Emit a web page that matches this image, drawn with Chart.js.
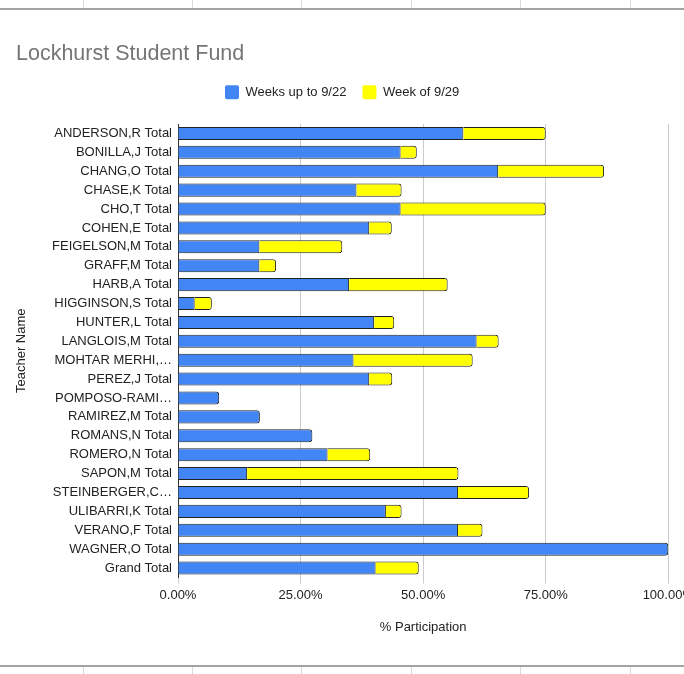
<!DOCTYPE html>
<html>
<head>
<meta charset="utf-8">
<script src="https://cdn.jsdelivr.net/npm/chart.js@4/dist/chart.umd.min.js"></script>
<style>
html,body{margin:0;padding:0;background:#fff;}
#wrap{position:relative;width:684px;height:674px;overflow:hidden;background:#fff;}
#c{position:absolute;left:0;top:0;}
.hl{position:absolute;left:0;width:684px;height:2px;background:#a3a3a3;}
.vl{position:absolute;width:1px;background:#dadada;}
</style>
</head>
<body>
<div id="wrap">
<canvas id="c" width="700" height="674"></canvas>
<div class="hl" style="top:8px"></div>
<div class="hl" style="top:665px"></div>
<div class="vl" style="left:83px;top:0;height:8px"></div>
<div class="vl" style="left:192px;top:0;height:8px"></div>
<div class="vl" style="left:301px;top:0;height:8px"></div>
<div class="vl" style="left:411px;top:0;height:8px"></div>
<div class="vl" style="left:520px;top:0;height:8px"></div>
<div class="vl" style="left:630px;top:0;height:8px"></div>
<div class="vl" style="left:83px;top:667px;height:7px"></div>
<div class="vl" style="left:192px;top:667px;height:7px"></div>
<div class="vl" style="left:301px;top:667px;height:7px"></div>
<div class="vl" style="left:411px;top:667px;height:7px"></div>
<div class="vl" style="left:520px;top:667px;height:7px"></div>
<div class="vl" style="left:630px;top:667px;height:7px"></div>
</div>
<script>
const categories = [
  "ANDERSON,R Total", "BONILLA,J Total", "CHANG,O Total", "CHASE,K Total",
  "CHO,T Total", "COHEN,E Total", "FEIGELSON,M Total", "GRAFF,M Total",
  "HARB,A Total", "HIGGINSON,S Total", "HUNTER,L Total", "LANGLOIS,M Total",
  "MOHTAR MERHI,\u2026", "PEREZ,J Total", "POMPOSO-RAMI\u2026", "RAMIREZ,M Total",
  "ROMANS,N Total", "ROMERO,N Total", "SAPON,M Total", "STEINBERGER,C\u2026",
  "ULIBARRI,K Total", "VERANO,F Total", "WAGNER,O Total", "Grand Total"
];
const weeksUpTo922 = [58.2, 45.4, 65.3, 36.4, 45.4, 39.0, 16.6, 16.6, 34.9, 3.4, 40.0, 60.9,
                      35.8, 39.0, 8.4, 16.7, 27.4, 30.5, 14.1, 57.1, 42.4, 57.1, 100, 40.3];
const weekOf929   = [16.8, 3.3, 21.6, 9.2, 29.6, 4.6, 16.9, 3.4, 20.1, 3.5, 4.1, 4.5,
                      24.3, 4.7, 0, 0, 0, 8.7, 43.1, 14.5, 3.2, 5.0, 0, 8.8];
const xTickValues = [0, 25, 50, 75, 100];
const seriesNames = ["Weeks up to 9/22", "Week of 9/29"];
const titleText = "Lockhurst Student Fund";
const xTitle = "% Participation";
const yTitle = "Teacher Name";

const FONT = "'Liberation Sans', Arial, Helvetica, sans-serif";
Chart.defaults.font.family = FONT;
Chart.defaults.color = '#222';

new Chart(document.getElementById('c'), {
  type: 'bar',
  data: {
    labels: categories,
    datasets: [
      {
        label: seriesNames[0], data: weeksUpTo922,
        backgroundColor: '#4285f4', borderColor: '#222', borderWidth: 1,
        borderRadius: 3, borderSkipped: 'start',
        barPercentage: 0.69, categoryPercentage: 1
      },
      {
        label: seriesNames[1], data: weekOf929,
        backgroundColor: '#ffff00', borderColor: '#222', borderWidth: 1,
        borderRadius: 3, borderSkipped: 'start',
        barPercentage: 0.69, categoryPercentage: 1
      }
    ]
  },
  options: {
    indexAxis: 'y',
    responsive: false,
    animation: false,
    devicePixelRatio: 1,
    layout: { padding: { left: 16, right: 31.7, top: 0, bottom: 0 } },
    plugins: {
      tooltip: { enabled: false },
      title: {
        display: true, text: titleText, align: 'start', color: '#757575',
        font: { size: 21.5, weight: 'normal', family: FONT },
        padding: { top: 41.1, bottom: 2.3 }
      },
      subtitle: {
        display: true, text: '', weight: 500, position: 'top',
        font: { size: 10, lineHeight: 1 }, padding: { top: 4.8, bottom: 0 }
      },
      legend: {
        position: 'top', align: 'center',
        labels: {
          boxWidth: 14, boxHeight: 14, padding: 16, color: '#222',
          font: { size: 13, family: FONT },
          useBorderRadius: true, borderRadius: 2,
          generateLabels: (chart) => Chart.defaults.plugins.legend.labels.generateLabels(chart)
            .map(l => Object.assign(l, { lineWidth: 0, strokeStyle: l.fillStyle }))
        }
      }
    },
    scales: {
      x: {
        stacked: true, min: 0, max: 100,
        afterBuildTicks: (s) => { s.ticks = xTickValues.map(v => ({ value: v })); },
        afterFit: (s) => { s.height = 96.5; },
        ticks: {
          padding: 4, color: '#222', font: { size: 13 },
          callback: (v) => Number(v).toFixed(2) + '%'
        },
        grid: { color: '#cccccc', lineWidth: 1, tickLength: 6, drawTicks: true },
        border: { display: false },
        title: {
          display: true, text: xTitle, color: '#222', font: { size: 13 },
          padding: { top: 0, bottom: 38.5 }
        }
      },
      y: {
        stacked: true,
        afterFit: (s) => { s.width = 162; },
        ticks: { padding: 6, color: '#222', font: { size: 13 }, autoSkip: false },
        grid: { display: false, drawTicks: false },
        border: { display: true, color: '#333', width: 1 },
        title: {
          display: true, text: yTitle, color: '#222', font: { size: 13 },
          padding: { top: -2.3, bottom: 0 }
        }
      }
    }
  }
});
</script>
</body>
</html>
